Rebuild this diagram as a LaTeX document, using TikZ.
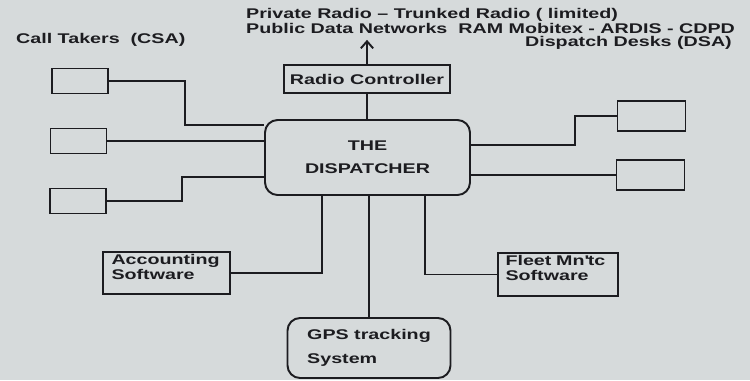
\documentclass[tikz,border=0pt]{standalone}
\usepackage{fontspec}
\setmainfont{Liberation Sans}[FakeStretch=1.4]
\usetikzlibrary{arrows.meta, positioning}
\definecolor{scangray}{RGB}{214, 218, 219}
\definecolor{inkblack}{RGB}{28, 28, 32}

\begin{document}
\begin{tikzpicture}[
    x=0.02cm, y=-0.02cm,
    font=\fontsize{8}{8.5}\selectfont\bfseries,
    every node/.style={text=inkblack},
    desk/.style={rectangle, draw=inkblack, line width=1.1pt, minimum width=1.12cm, minimum height=0.5cm},
    deskwide/.style={desk, minimum width=1.36cm, minimum height=0.6cm},
    module/.style={rectangle, draw=inkblack, line width=1.1pt, align=left, inner xsep=4pt, inner ysep=1pt, text height=6pt, text depth=16pt},
    hub/.style={rectangle, rounded corners=0.25cm, draw=inkblack, line width=1.1pt, align=center},
    link/.style={line width=1.1pt, draw=inkblack},
    arrow/.style={link, -{Straight Barb[length=4pt, width=7pt]}}
]

% background of the scan
\fill[scangray] (0,0) rectangle (750,380);

% titles
\node[anchor=west, align=left] (title) at (240,21) {Private Radio -- Trunked Radio ( limited)\\Public Data Networks~~RAM Mobitex - ARDIS - CDPD};
\node[anchor=west] (ctlabel) at (10,40) {Call Takers~~(CSA)};
\node[anchor=east] (ddlabel) at (738,43) {Dispatch Desks (DSA)};

% central hub
\node[hub, minimum width=4.1cm, minimum height=1.5cm] (disp) at (367.5,157.5) {THE\\[4.5pt]DISPATCHER};
\node[rectangle, draw=inkblack, line width=1.1pt, minimum width=3.3cm, minimum height=0.56cm] (radio) at (367,79) {Radio Controller};

% call takers
\node[desk] (ct1) at (80,81) {};
\node[desk] (ct2) at (78.5,141) {};
\node[desk] (ct3) at (78,201) {};

% dispatch desks
\node[deskwide] (dd1) at (651.5,116) {};
\node[deskwide] (dd2) at (650.5,175) {};

% software modules
\node[module, minimum width=2.54cm, text width=2.2cm] (acct) at (166.5,273) {Accounting\\Software};
\node[module, minimum width=2.4cm, text width=2.1cm] (fleet) at (558,274.5) {Fleet Mn\textquotesingle tc\\Software};
\node[hub, align=left, minimum width=3.26cm, minimum height=1.2cm] (gps) at (369,348) {GPS tracking\\[5.5pt]System};

% links - call takers
\draw[link] (ct1.east) -| (185,125) -- (disp.west |- 0,125);
\draw[link] (ct2.east) -- (ct2.east -| disp.west);
\draw[link] (ct3.east) -| (182,177) -- (disp.west |- 0,177);

% links - dispatch desks
\draw[link] (disp.east |- 0,145) -| (575,116) -- (dd1.west);
\draw[link] (dd2.west -| disp.east) -- (dd2.west);

% links - modules
\draw[link] (acct.east) -| (disp.south -| 322,0);
\draw[link] (disp.south -| gps.north) -- (gps.north);
\draw[link] (fleet.west) -| (disp.south -| 425,0);

% radio
\draw[link] (radio.south) -- (radio.south |- disp.north);
\draw[arrow] (radio.north) -- (radio.north |- title.south);

\end{tikzpicture}
\end{document}
